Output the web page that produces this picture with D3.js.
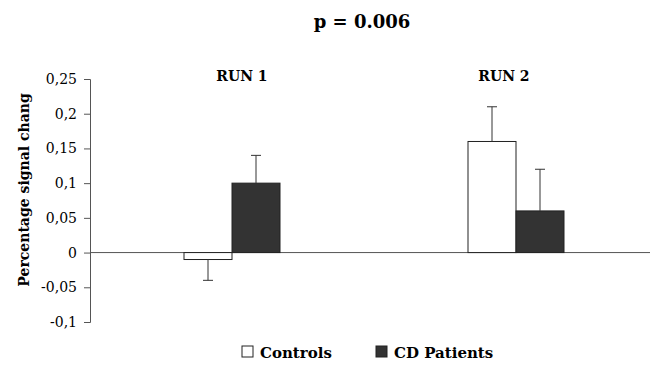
<!DOCTYPE html>
<html>
<head>
<meta charset="utf-8">
<script src="https://cdn.jsdelivr.net/npm/d3@7"></script>
<style>
  body { margin: 0; background: #fff; }
  svg { display: block; }
</style>
</head>
<body>
<script>
"use strict";

// data
const runs = ["RUN 1", "RUN 2"];
const groups = ["Controls", "CD Patients"];
const controlsMean = [-0.01, 0.16];
const controlsErr = [-0.04, 0.21];
const patientsMean = [0.10, 0.06];
const patientsErr = [0.14, 0.12];
const yTicks = [-0.1, -0.05, 0, 0.05, 0.1, 0.15, 0.2, 0.25];
const groupColors = ["#ffffff", "#333333"];

const width = 650, height = 367;
const serif = "'DejaVu Serif', serif";

let svg = d3.select("body").append("svg")
  .attr("width", width)
  .attr("height", height)
  .attr("font-family", serif);

let x = d3.scaleBand()
  .domain(runs)
  .range([91, 659]);

let xs = d3.scaleBand()
  .domain(groups)
  .range([x.bandwidth() / 2 - 49, x.bandwidth() / 2 + 47]);

let y = d3.scaleLinear()
  .domain([-0.1, 0.25])
  .range([322, 79]);

// y axis, comma decimals and plain hyphen minus
let yAxis = svg.append("g")
  .attr("transform", "translate(90,0)")
  .call(d3.axisLeft(y)
    .tickValues(yTicks)
    .tickSize(6)
    .tickPadding(7)
    .tickFormat((d) => String(+d.toFixed(2)).replace(".", ",")));
yAxis.attr("font-family", serif).attr("font-size", 14);
yAxis.select(".domain").attr("stroke", "#555");
yAxis.selectAll(".tick line").attr("stroke", "#555");
yAxis.selectAll(".tick text").attr("fill", "#000");

// zero line
svg.append("line")
  .attr("x1", 90).attr("x2", width)
  .attr("y1", y(0)).attr("y2", y(0))
  .attr("stroke", "#555");

// bars
let rows = [];
runs.forEach((r, i) => {
  rows.push({run: r, g: groups[0], v: controlsMean[i], e: controlsErr[i], c: groupColors[0]});
  rows.push({run: r, g: groups[1], v: patientsMean[i], e: patientsErr[i], c: groupColors[1]});
});

let bars = svg.append("g");
bars.selectAll("rect")
  .data(rows)
  .enter().append("rect")
  .attr("x", (d) => x(d.run) + xs(d.g))
  .attr("width", xs.bandwidth())
  .attr("y", (d) => y(Math.max(0, d.v)))
  .attr("height", (d) => Math.abs(y(d.v) - y(0)))
  .attr("fill", (d) => d.c)
  .attr("stroke", "#222")
  .attr("stroke-width", 1);

// error bars
let errs = svg.append("g").attr("stroke", "#333");
errs.selectAll("line.v")
  .data(rows)
  .enter().append("line")
  .attr("class", "v")
  .attr("x1", (d) => x(d.run) + xs(d.g) + xs.bandwidth() / 2)
  .attr("x2", (d) => x(d.run) + xs(d.g) + xs.bandwidth() / 2)
  .attr("y1", (d) => y(d.v))
  .attr("y2", (d) => y(d.e));
errs.selectAll("line.cap")
  .data(rows)
  .enter().append("line")
  .attr("class", "cap")
  .attr("x1", (d) => x(d.run) + xs(d.g) + xs.bandwidth() / 2 - 5)
  .attr("x2", (d) => x(d.run) + xs(d.g) + xs.bandwidth() / 2 + 5)
  .attr("y1", (d) => y(d.e))
  .attr("y2", (d) => y(d.e));

// run labels
let runOffset = [9, -13];
svg.selectAll("text.run")
  .data(runs)
  .enter().append("text")
  .attr("class", "run")
  .attr("x", (d, i) => x(d) + x.bandwidth() / 2 + runOffset[i])
  .attr("y", 81)
  .attr("text-anchor", "middle")
  .attr("font-size", 14)
  .attr("font-weight", "bold")
  .text((d) => d);

// title
svg.append("text")
  .attr("x", 362)
  .attr("y", 28)
  .attr("text-anchor", "middle")
  .attr("font-size", 18)
  .attr("font-weight", "bold")
  .text("p = 0.006");

// y label
svg.append("text")
  .attr("transform", "translate(29,190) rotate(-90)")
  .attr("text-anchor", "middle")
  .attr("font-size", 14)
  .attr("font-weight", "bold")
  .text("Percentage signal chang");

// legend
let legendX = [242, 376];
let legend = svg.selectAll("g.leg")
  .data(groups)
  .enter().append("g")
  .attr("class", "leg")
  .attr("transform", (d, i) => "translate(" + legendX[i] + ",346)");
legend.append("rect")
  .attr("width", 11).attr("height", 11)
  .attr("fill", (d, i) => groupColors[i])
  .attr("stroke", "#222");
legend.append("text")
  .attr("x", 18)
  .attr("y", 12)
  .attr("font-family", serif)
  .attr("font-size", 15)
  .attr("font-weight", "bold")
  .text((d) => d);
</script>
</body>
</html>
